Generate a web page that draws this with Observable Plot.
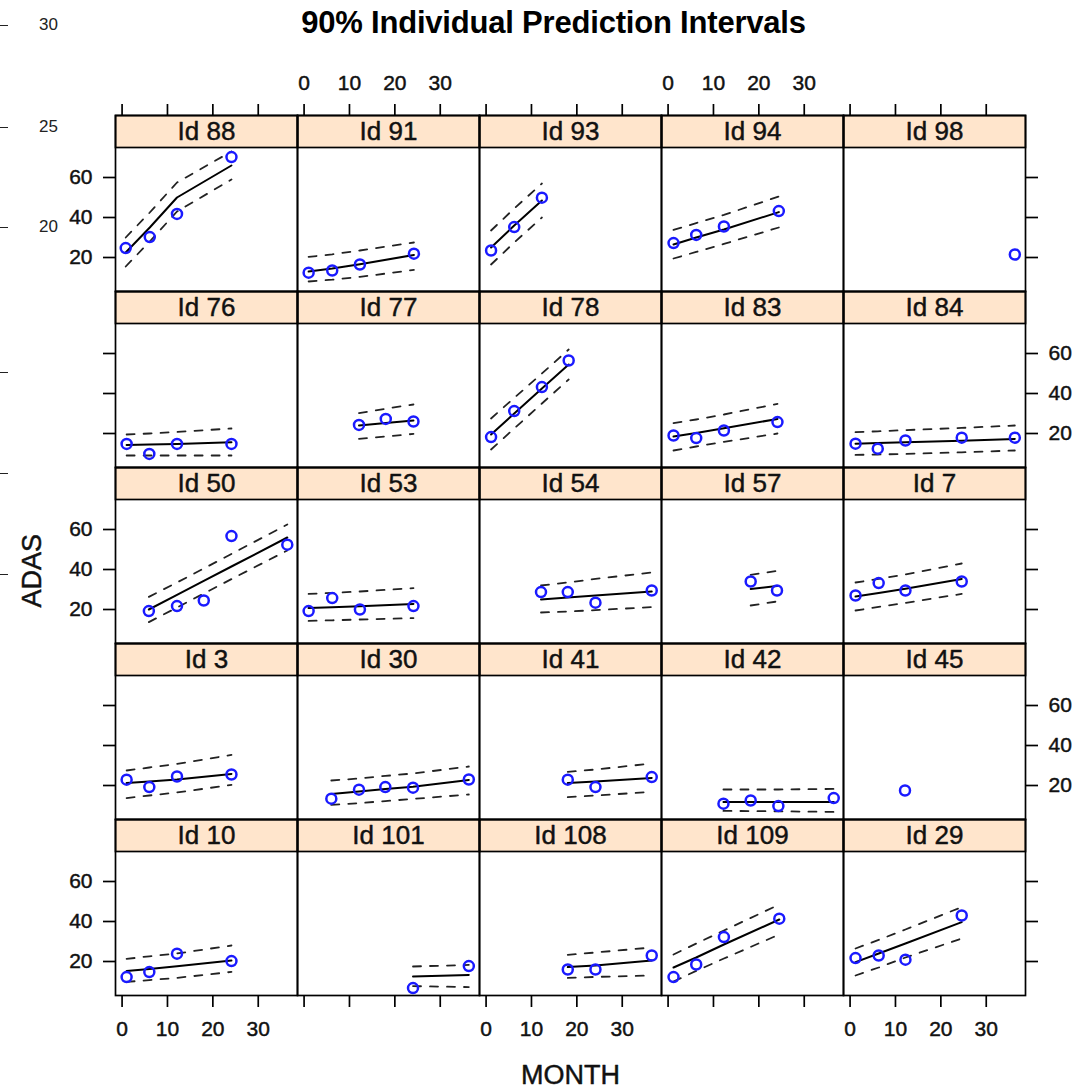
<!DOCTYPE html>
<html><head><meta charset="utf-8">
<script src="https://cdn.jsdelivr.net/npm/d3@7"></script>
<script src="https://cdn.jsdelivr.net/npm/@observablehq/plot@0.6"></script>
<style>
body{margin:0;background:#fff;font-family:"Liberation Sans",Arial,sans-serif;}
#wrap{position:relative;width:1089px;height:1088px;overflow:hidden;background:#fff;}
#title{position:absolute;left:9px;top:0;width:1089px;height:50px;text-align:center;font-weight:bold;font-size:31px;line-height:46px;color:#000;letter-spacing:-0.2px;}
#chart{position:absolute;left:0;top:50px;}
.art{position:absolute;left:0;font-size:17px;color:#222;line-height:18px;}
.art i{display:inline-block;width:8px;height:1px;background:#222;vertical-align:middle;margin-right:31px;}
</style></head><body>
<div id="wrap">
<div id="title">90% Individual Prediction Intervals</div>
<div id="chart"></div>
<div class="art" style="top:16px"><i></i>30</div>
<div class="art" style="top:118px"><i></i>25</div>
<div class="art" style="top:218px"><i></i>20</div>
<div class="art" style="top:363px"><i></i></div>
<div class="art" style="top:464px"><i></i></div>
<div class="art" style="top:565px"><i></i></div>
</div>
<script>
const panelIds = ["88","91","93","94","98","76","77","78","83","84","50","53","54","57","7","3","30","41","42","45","10","101","108","109","29"];
const obsMonth = [
 [0.8,6.1,12.1,24.1],
 [1.0,6.2,12.3,24.2],
 [1.1,6.2,12.3],
 [1.2,6.2,12.3,24.4],
 [36.3],
 [1.0,6.0,12.1,24.1],
 [12.1,18.0,24.1],
 [1.1,6.2,12.3,18.2],
 [1.2,6.2,12.3,24.1],
 [1.2,6.1,12.2,24.6,36.3],
 [5.9,12.1,18.0,24.1,36.4],
 [1.0,6.2,12.3,24.1],
 [12.1,18.0,24.1,36.5],
 [18.2,24.0],
 [1.2,6.3,12.2,24.6],
 [1.0,6.0,12.1,24.1],
 [6.0,12.1,17.9,24.0,36.3],
 [18.0,24.1,36.5],
 [12.2,18.2,24.3,36.5],
 [12.1],
 [1.0,6.0,12.1,24.1],
 [24.0,36.3],
 [18.0,24.1,36.5],
 [1.2,6.2,12.3,24.5],
 [1.2,6.3,12.2,24.6]
];
const obsAdas = [
 [24.7,30.2,41.8,70.2],
 [12.4,13.5,16.5,21.9],
 [23.5,35.2,49.9],
 [27.2,31.3,35.5,43.2],
 [21.5],
 [14.8,9.8,14.8,14.8],
 [24.3,27.3,26],
 [18.2,31.2,43.2,56.5],
 [19,17.7,21.5,25.7],
 [14.9,12.4,16.5,17.9,17.9],
 [19.2,21.7,24.5,56.7,52.4],
 [19.2,25.7,20,21.7],
 [28.7,28.7,23.4,29.5],
 [34,29.5],
 [27,33.2,29.5,34],
 [22.9,19.2,24.5,25.5],
 [13.4,17.9,19.2,18.9,23],
 [22.9,19.2,24.2],
 [10.9,12.5,9.7,13.7],
 [17.5],
 [12.2,14.7,23.9,20.2],
 [6.7,17.7],
 [16,16,23],
 [12.2,18.5,32.2,41.4],
 [21.7,23,20.9,43]
];
const fitAdas = [
 [22.5,35,50,66],
 [13,14.5,16.6,21.3],
 [25,36,48.5],
 [26.5,30,34,42.7],
 [],
 [14.3,14.5,14.8,15.6],
 [24,25.3,26.5],
 [19.5,30,42.5,54.5],
 [18.5,20.3,22.6,27.3],
 [14.9,15.2,15.6,16.4,17.3],
 [20,27.3,34.3,41.5,56],
 [20.7,21.1,21.6,22.8],
 [25,26,27,29],
 [30.3,31.7],
 [26.5,28.3,30.4,35.3],
 [21.2,22,23,25.8],
 [15.8,17,18.2,19.4,22.8],
 [21.2,22,23.8],
 [11.7,11.7,11.7,11.8],
 [],
 [15.2,16.3,17.6,20.5],
 [12.5,13.3],
 [17.2,18,20.5],
 [17,22,28.5,41],
 [19.7,24,29,39.7]
];
const upperAdas = [
 [30,42.5,57.5,73],
 [20.3,21.6,23.5,27.5],
 [33.5,44.5,57],
 [33.8,37.2,41.3,50.5],
 [],
 [19.5,20,20.8,22.5],
 [30.2,32.4,34.5],
 [27.5,37.8,50,62],
 [25.2,27,29.5,34.8],
 [20.7,21.1,21.7,22.8,24],
 [26.3,33.5,40.5,47.8,62.5],
 [27.8,28.3,29,30.7],
 [32,33.5,35.3,38.5],
 [37.3,39.3],
 [33.5,35.3,37.5,43],
 [27.5,29,30.8,35.3],
 [22.5,23.5,24.8,26,29.5],
 [26.8,28,31],
 [18,18,18,18.3],
 [],
 [21.3,22.6,24,28],
 [17.5,18.3],
 [23.3,24.5,27],
 [23.5,29,35.5,48.5],
 [26.5,30.8,36,47.2]
];
const lowerAdas = [
 [15.5,28,43,59],
 [8,8.9,10.3,13.8],
 [16.5,27.5,40],
 [19.5,22.8,26.8,35],
 [],
 [9,9,9,9],
 [17.3,18.5,19.8],
 [12,22.5,35,47],
 [11.5,13.5,15.8,20],
 [9.3,9.5,9.8,10.6,11.5],
 [13.7,21,28,35.2,49.5],
 [14.3,14.6,15,15.7],
 [18.5,19,19.7,21.2],
 [22,24],
 [19.5,21.3,23.3,27.8],
 [13.7,15,16.5,20.3],
 [10.3,11.2,12.2,13.3,15.5],
 [14.2,15,16.8],
 [7.3,7.2,7.1,6.8],
 [],
 [9.8,10.7,11.8,14.8],
 [7.7,7.2],
 [11.8,12.3,13],
 [10,15.3,21.5,33.5],
 [13,17,22,31.5]
];
const xTicks = [0,10,20,30];
const yTicks = [20,40,60];
const leftLabelRows = [0,2,4];
const rightLabelRows = [1,3];
const topLabelCols = [1,3];
const bottomLabelCols = [0,2,4];
const xLabel = "MONTH";
const yLabel = "ADAS";

// build tables
const NC = 5;
const panels = panelIds.map((id,i)=>({id, col:i%NC, row:Math.floor(i/NC)}));
const obs = [];
const pred = [];
panels.forEach((p,i)=>{
  obsMonth[i].forEach((m,j)=>{
    obs.push({id:p.id,col:p.col,row:p.row,month:m,adas:obsAdas[i][j]});
    if (fitAdas[i].length) pred.push({id:p.id,col:p.col,row:p.row,month:m,fit:fitAdas[i][j],upper:upperAdas[i][j],lower:lowerAdas[i][j]});
  });
});
const leftLabels = leftLabelRows.flatMap(r=>yTicks.map(v=>({row:r,col:0,v})));
const rightLabels = rightLabelRows.flatMap(r=>yTicks.map(v=>({row:r,col:NC-1,v})));
const topLabels = topLabelCols.flatMap(c=>xTicks.map(v=>({row:0,col:c,v})));
const bottomLabels = bottomLabelCols.flatMap(c=>xTicks.map(v=>({row:4,col:c,v})));

const FONT = "Liberation Sans, Arial, Helvetica, sans-serif";
const tickFs = 21;
const stripH = 32;
const panelH = 144;
const heavy = {stroke: "#111", strokeWidth: 0.45, fill: "#111"};

const chart = Plot.plot({
  width: 1089, height: 1038,
  marginTop: 65, marginBottom: 93, marginLeft: 115, marginRight: 64,
  style: {fontFamily: FONT, background: "transparent", overflow: "visible", color: "black"},
  fx: {domain: [0,1,2,3,4], padding: 0, axis: null},
  fy: {domain: [0,1,2,3,4], padding: 0, axis: null},
  x: {domain: [-1.45, 38.65]},
  y: {domain: [3, 75], insetTop: stripH},
  marks: [
    Plot.frame({fill: "#FFE5CC", stroke: "none", insetBottom: panelH}),
    Plot.frame({fill: "none", stroke: "black", strokeWidth: 1.7, insetBottom: panelH}),
    Plot.frame({stroke: "black", strokeWidth: 1.7}),
    Plot.text(panels, {fx: "col", fy: "row", text: d => "Id " + d.id, frameAnchor: "top", dy: stripH/2, lineAnchor: "middle", fontSize: 26, ...heavy}),
    Plot.axisX({anchor: "top", ticks: xTicks, tickSize: 12, fill: "none", label: null, strokeWidth: 1.7}),
    Plot.axisX({anchor: "bottom", ticks: xTicks, tickSize: 12, fill: "none", label: null, strokeWidth: 1.7}),
    Plot.axisY({anchor: "left", ticks: yTicks, tickSize: 12, fill: "none", label: null, strokeWidth: 1.7}),
    Plot.axisY({anchor: "right", ticks: yTicks, tickSize: 12, fill: "none", label: null, strokeWidth: 1.7}),
    Plot.text(leftLabels, {fx: "col", fy: "row", y: "v", text: d => String(d.v), frameAnchor: "left", dx: -23, textAnchor: "end", fontSize: tickFs, ...heavy}),
    Plot.text(rightLabels, {fx: "col", fy: "row", y: "v", text: d => String(d.v), frameAnchor: "right", dx: 23, textAnchor: "start", fontSize: tickFs, ...heavy}),
    Plot.text(topLabels, {fx: "col", fy: "row", x: "v", text: d => String(d.v), frameAnchor: "top", dy: -32, lineAnchor: "middle", fontSize: tickFs, ...heavy}),
    Plot.text(bottomLabels, {fx: "col", fy: "row", x: "v", text: d => String(d.v), frameAnchor: "bottom", dy: 34, lineAnchor: "middle", fontSize: tickFs, ...heavy}),
    Plot.line(pred, {fx: "col", fy: "row", x: "month", y: "upper", z: "id", stroke: "#222", strokeWidth: 1.8, strokeDasharray: "8,9"}),
    Plot.line(pred, {fx: "col", fy: "row", x: "month", y: "lower", z: "id", stroke: "#222", strokeWidth: 1.8, strokeDasharray: "8,9"}),
    Plot.line(pred, {fx: "col", fy: "row", x: "month", y: "fit", z: "id", stroke: "black", strokeWidth: 2}),
    Plot.dot(obs, {fx: "col", fy: "row", x: "month", y: "adas", r: 5, stroke: "#1a1aff", strokeWidth: 2.5, fill: "none"}),
    Plot.text([yLabel], {facet: "super", text: d => d, frameAnchor: "left", rotate: -90, dx: -83, dy: 52, fontSize: 27, ...heavy}),
    Plot.text([xLabel], {facet: "super", text: d => d, frameAnchor: "bottom", dy: 88, fontSize: 27, ...heavy})
  ]
});
document.getElementById("chart").appendChild(chart);
</script>
</body></html>
